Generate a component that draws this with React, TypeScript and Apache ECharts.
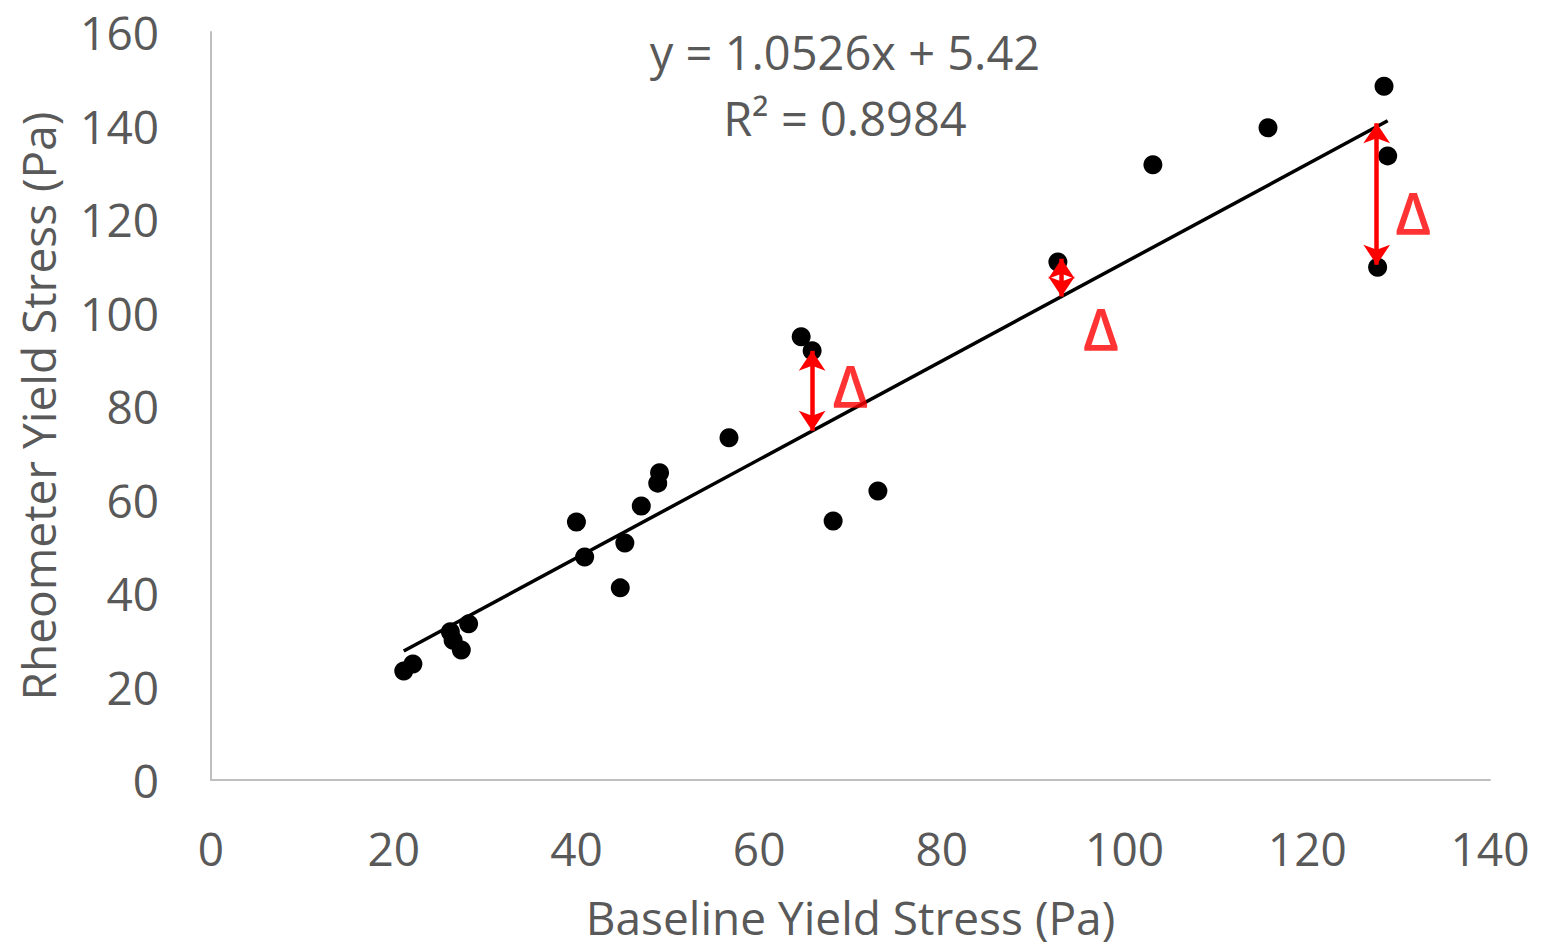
import React, { useEffect, useRef } from "react";
import * as echarts from "echarts";

const baselineX = [
  21.1, 22.1, 26.2, 26.5, 27.4, 28.2,
  40.0, 40.9, 44.8, 45.3, 47.1, 48.9, 49.1, 56.7, 68.1, 73.0,
  64.6, 65.8, 92.7, 103.1, 115.7, 128.4, 128.8, 127.7,
];
const rheometerY = [
  23.3, 24.8, 31.7, 29.9, 27.8, 33.4,
  55.2, 47.7, 41.1, 50.7, 58.6, 63.5, 65.7, 73.2, 55.4, 61.8,
  94.8, 91.8, 110.8, 131.6, 139.5, 148.4, 133.5, 109.7,
];
const trendX = [21.1, 128.8];
const trendY = [27.6, 141.0];

const deltaArrowX = [65.8, 93.1, 127.6];
const deltaArrowTop = [91.8, 111.5, 140.5];
const deltaArrowBottom = [74.7, 103.4, 110.2];
const deltaLabelX = [70.0, 97.4, 131.6];
const deltaLabelY = [84.5, 96.7, 121.5];

const xTicks = { min: 0, max: 140, interval: 20 };
const yTicks = { min: 0, max: 160, interval: 20 };

const FONT = "'Open Sans', sans-serif";
const GRAY = "#595959";

export default function App() {
  const ref = useRef<HTMLDivElement>(null);
  useEffect(() => {
    if (!ref.current) return;
    const chart = echarts.init(ref.current, null, {
      renderer: "svg",
      width: 1557,
      height: 947,
    });
    const option: any = {
      animation: false,
      backgroundColor: "#ffffff",
      grid: {
        left: 211,
        right: 67,
        top: 32,
        bottom: 167,
        containLabel: false,
        outerBoundsMode: "none",
      },
      xAxis: {
        type: "value",
        min: xTicks.min,
        max: xTicks.max,
        interval: xTicks.interval,
        name: "Baseline Yield Stress (Pa)",
        nameLocation: "middle",
        nameGap: 114,
        nameTextStyle: { color: GRAY, fontSize: 46, fontFamily: FONT },
        axisLine: { show: true, lineStyle: { color: "#bfbfbf", width: 2 } },
        axisTick: { show: false },
        splitLine: { show: false },
        axisLabel: { color: GRAY, fontSize: 46, fontFamily: FONT, margin: 45 },
      },
      yAxis: {
        type: "value",
        min: yTicks.min,
        max: yTicks.max,
        interval: yTicks.interval,
        name: "Rheometer Yield Stress (Pa)",
        nameLocation: "middle",
        nameGap: 150,
        nameTextStyle: { color: GRAY, fontSize: 46, fontFamily: FONT },
        axisLine: { show: true, lineStyle: { color: "#bfbfbf", width: 2 } },
        axisTick: { show: false },
        splitLine: { show: false },
        axisLabel: { color: GRAY, fontSize: 46, fontFamily: FONT, margin: 52 },
      },
      series: [
        {
          type: "line",
          data: trendX.map((x, i) => [x, trendY[i]]),
          symbol: "none",
          lineStyle: { color: "#000000", width: 3.5 },
          z: 2,
        },
        {
          type: "scatter",
          data: baselineX.map((x, i) => [x, rheometerY[i]]),
          symbolSize: 19,
          itemStyle: { color: "#000000", opacity: 1 },
          z: 3,
        },
        {
          type: "lines",
          coordinateSystem: "cartesian2d",
          polyline: false,
          symbol: ["arrow", "arrow"],
          symbolSize: [20, 20],
          lineStyle: { color: "#ff0000", width: 4.5, opacity: 1 },
          data: deltaArrowX.map((x, i) => ({
            coords: [
              [x, deltaArrowTop[i]],
              [x, deltaArrowBottom[i]],
            ],
          })),
          z: 4,
        },
        {
          type: "scatter",
          data: deltaLabelX.map((x, i) => [x, deltaLabelY[i]]),
          symbolSize: 1,
          itemStyle: { color: "rgba(0,0,0,0)" },
          label: {
            show: true,
            position: "inside",
            formatter: "Δ",
            color: "#ff0000",
            fontSize: 58,
            fontWeight: 600,
            fontFamily: FONT,
          },
          z: 5,
        },
      ],
      graphic: [
        {
          type: "text",
          x: 845,
          y: 52,
          style: {
            text: "y = 1.0526x + 5.42",
            fill: GRAY,
            fontSize: 47,
            fontFamily: FONT,
            align: "center",
            verticalAlign: "middle",
          },
        },
        {
          type: "text",
          x: 845,
          y: 118,
          style: {
            text: "R² = 0.8984",
            fill: GRAY,
            fontSize: 47,
            fontFamily: FONT,
            align: "center",
            verticalAlign: "middle",
          },
        },
      ],
    };
    chart.setOption(option);
    return () => chart.dispose();
  }, []);
  return (
    <div
      ref={ref}
      style={{
        position: "absolute",
        left: 0,
        top: 0,
        width: 1557,
        height: 947,
        overflow: "hidden",
      }}
    />
  );
}
